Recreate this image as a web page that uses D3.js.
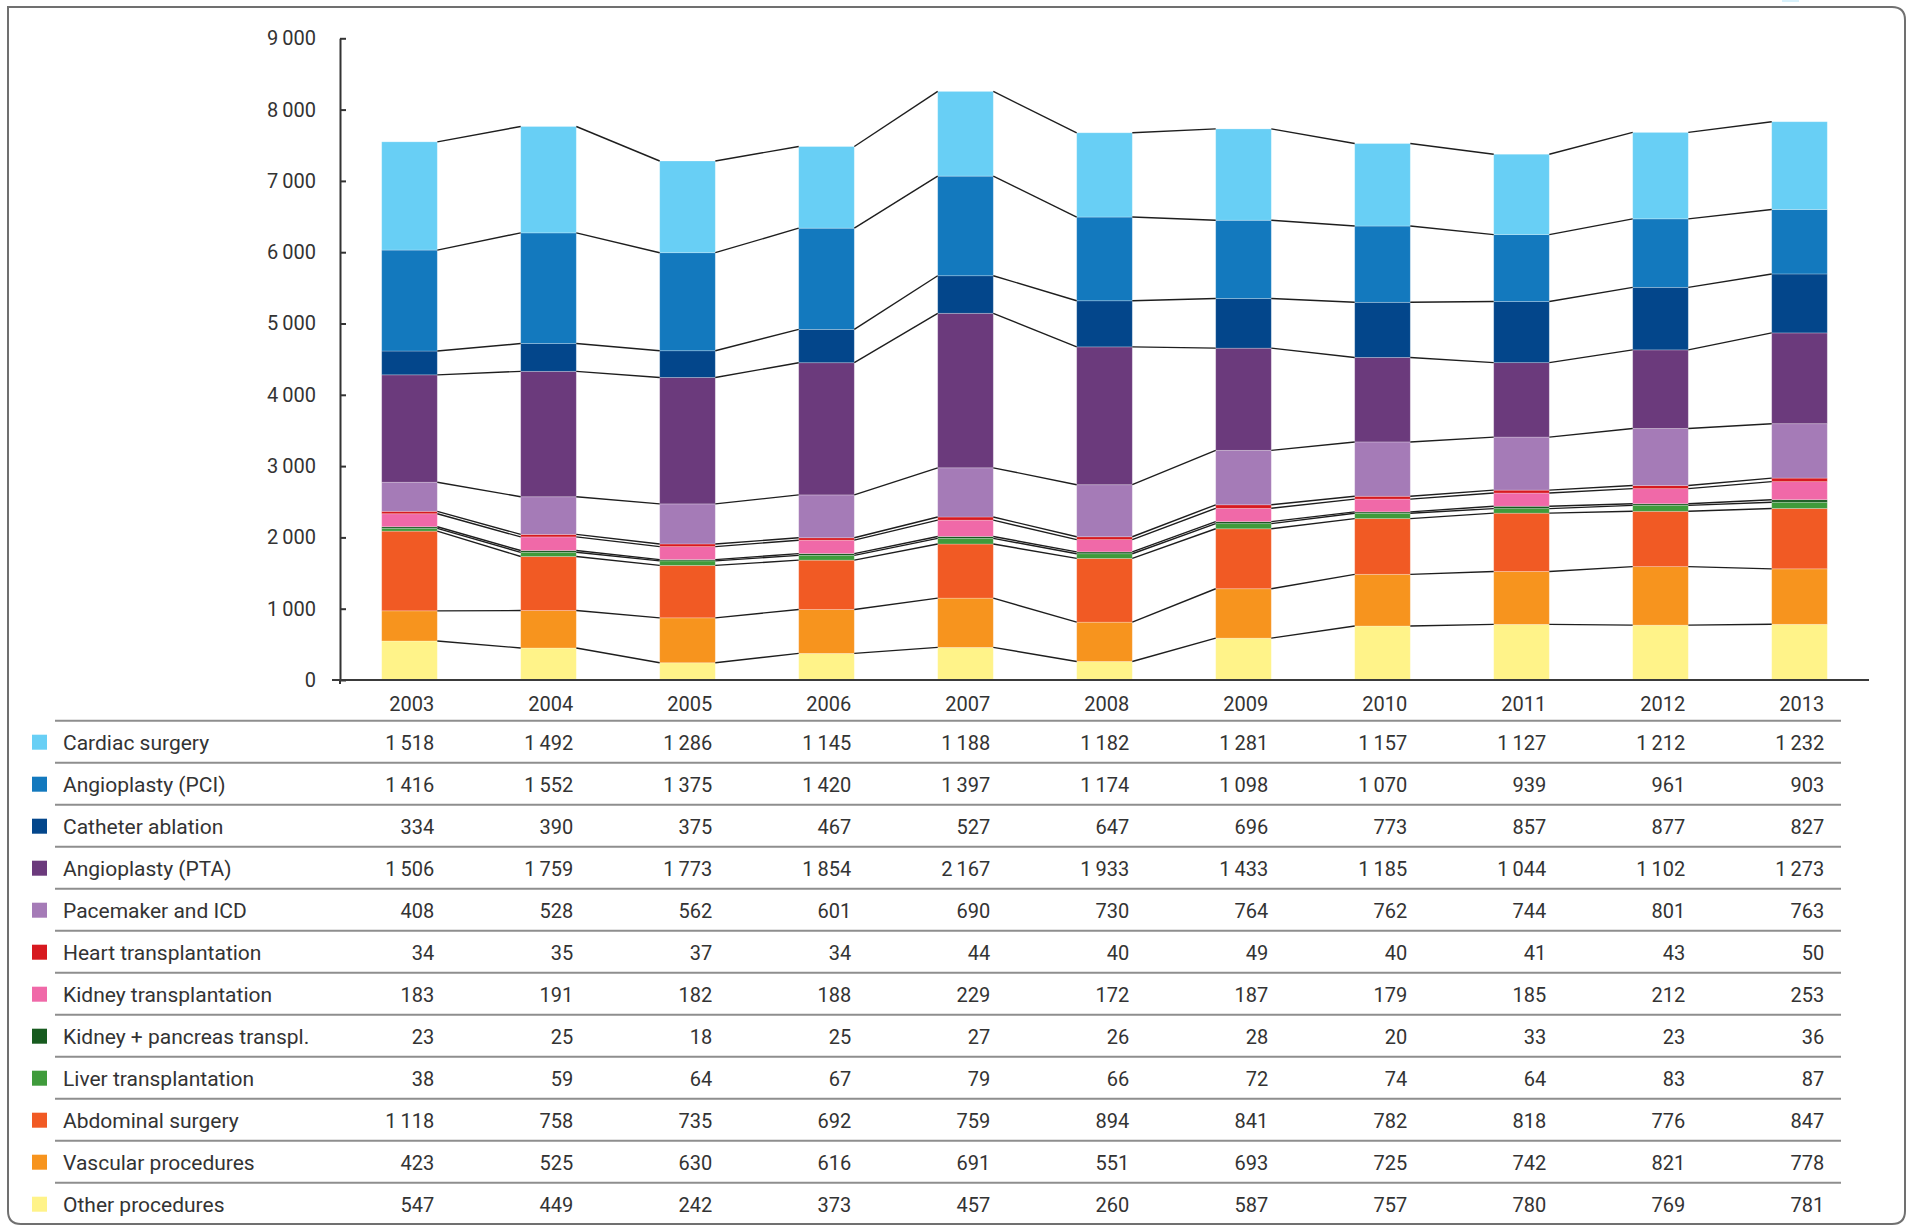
<!DOCTYPE html>
<html>
<head>
<meta charset="utf-8">
<script src="https://cdn.jsdelivr.net/npm/d3@7"></script>
<style>
    body { margin: 0; background: #fff; }
    #chart-area { width: 1911px; height: 1226px; }
    text { font-family: Roboto, "Noto Sans", sans-serif; fill: #333; }
</style>
</head>
<body>
<div id="chart-area"></div>
<script>

let years = [2003, 2004, 2005, 2006, 2007, 2008, 2009, 2010, 2011, 2012, 2013];

let seriesNames = ["Cardiac surgery", "Angioplasty (PCI)", "Catheter ablation", "Angioplasty (PTA)",
    "Pacemaker and ICD", "Heart transplantation", "Kidney transplantation", "Kidney + pancreas transpl.",
    "Liver transplantation", "Abdominal surgery", "Vascular procedures", "Other procedures"];

let cardiacSurgery   = [1518, 1492, 1286, 1145, 1188, 1182, 1281, 1157, 1127, 1212, 1232];
let angioplastyPCI   = [1416, 1552, 1375, 1420, 1397, 1174, 1098, 1070, 939, 961, 903];
let catheterAblation = [334, 390, 375, 467, 527, 647, 696, 773, 857, 877, 827];
let angioplastyPTA   = [1506, 1759, 1773, 1854, 2167, 1933, 1433, 1185, 1044, 1102, 1273];
let pacemakerICD     = [408, 528, 562, 601, 690, 730, 764, 762, 744, 801, 763];
let heartTx          = [34, 35, 37, 34, 44, 40, 49, 40, 41, 43, 50];
let kidneyTx         = [183, 191, 182, 188, 229, 172, 187, 179, 185, 212, 253];
let kidneyPancreasTx = [23, 25, 18, 25, 27, 26, 28, 20, 33, 23, 36];
let liverTx          = [38, 59, 64, 67, 79, 66, 72, 74, 64, 83, 87];
let abdominalSurgery = [1118, 758, 735, 692, 759, 894, 841, 782, 818, 776, 847];
let vascularProc     = [423, 525, 630, 616, 691, 551, 693, 725, 742, 821, 778];
let otherProc        = [547, 449, 242, 373, 457, 260, 587, 757, 780, 769, 781];

let yTicks = [0, 1000, 2000, 3000, 4000, 5000, 6000, 7000, 8000, 9000];

// table order (top to bottom) == reverse stacking order
let seriesValues = [cardiacSurgery, angioplastyPCI, catheterAblation, angioplastyPTA, pacemakerICD, heartTx,
    kidneyTx, kidneyPancreasTx, liverTx, abdominalSurgery, vascularProc, otherProc];

let colors = ["#68cff5", "#1379be", "#03468b", "#6b3a7c", "#a57bb7", "#d7191f",
    "#f069a8", "#175b1f", "#3f9b3b", "#f15a24", "#f7941e", "#fff389"];


class StackedProcedures {

    constructor(parentElement) {
        this.parentElement = parentElement;
        this.displayData = [];
        this.initVis();
    }

    initVis() {
        let vis = this;

        vis.width = 1911;
        vis.height = 1226;

        vis.svg = d3.select("#" + vis.parentElement).append("svg")
            .attr("width", vis.width)
            .attr("height", vis.height);

        // frame (square top-left corner, the others rounded)
        let l = 8, t = 7, r = 1905, b = 1224, rad = 13;
        vis.svg.append("path")
            .attr("d", `M${l},${t} H${r - rad} Q${r},${t} ${r},${t + rad} V${b - rad} Q${r},${b} ${r - rad},${b} H${l + rad} Q${l},${b} ${l},${b - rad} Z`)
            .attr("fill", "none")
            .attr("stroke", "#707070")
            .attr("stroke-width", 2);

        // little sliver at the top edge
        vis.svg.append("rect")
            .attr("x", 1782).attr("y", 0)
            .attr("width", 17).attr("height", 2)
            .attr("fill", "#d8f1fb");

        vis.x = d3.scaleBand()
            .domain(years)
            .range([340, 1869])
            .paddingInner(0.6)
            .paddingOuter(0.3);

        vis.y = d3.scaleLinear()
            .domain([0, 9000])
            .range([680, 38.3]);

        vis.fmt = v => d3.format(",")(v).replace(/,/g, "\u2009");

        vis.yAxis = vis.svg.append("g")
            .attr("class", "y-axis axis")
            .attr("transform", "translate(340, 0)")
            .call(d3.axisLeft(vis.y).tickValues(yTicks).tickSizeInner(-6).tickSizeOuter(0)
                .tickPadding(24).tickFormat(vis.fmt));

        vis.yAxis.select(".domain").attr("stroke", "#333").attr("stroke-width", 2);
        vis.yAxis.selectAll(".tick line").attr("stroke", "#333").attr("stroke-width", 2);
        vis.yAxis.selectAll(".tick text").style("font-size", "20px").attr("fill", "#333");

        // stub of the y axis below zero
        vis.svg.append("line")
            .attr("x1", 340).attr("x2", 340)
            .attr("y1", vis.y(0)).attr("y2", vis.y(0) + 4)
            .attr("stroke", "#333").attr("stroke-width", 2);

        vis.wrangleData();
    }

    wrangleData() {
        let vis = this;

        // stack bottom-up: Other procedures first
        let order = d3.range(seriesNames.length).reverse();
        vis.displayData = [];
        years.forEach((yr, i) => {
            let base = 0;
            order.forEach(s => {
                let v = seriesValues[s][i];
                vis.displayData.push({year: yr, idx: i, series: s, y0: base, y1: base + v});
                base += v;
            });
        });

        // series lines: one per series, joining the top of each segment
        vis.lineData = [];
        order.forEach(s => {
            let tops = vis.displayData.filter(d => d.series === s);
            for (let i = 0; i < tops.length - 1; i++) {
                vis.lineData.push({from: tops[i], to: tops[i + 1]});
            }
        });

        vis.updateVis();
    }

    updateVis() {
        let vis = this;
        let bw = vis.x.bandwidth();

        vis.svg.append("g").selectAll(".bar")
            .data(vis.displayData)
            .enter()
            .append("rect")
            .attr("class", "bar")
            .attr("x", d => vis.x(d.year))
            .attr("y", d => vis.y(d.y1))
            .attr("width", bw)
            .attr("height", d => vis.y(d.y0) - vis.y(d.y1))
            .attr("fill", d => colors[d.series])
            .attr("stroke", "rgba(255,255,255,0.3)")
            .attr("stroke-width", 0.8);

        vis.svg.append("g").selectAll(".series-line")
            .data(vis.lineData)
            .enter()
            .append("line")
            .attr("class", "series-line")
            .attr("x1", d => vis.x(d.from.year) + bw)
            .attr("y1", d => vis.y(d.from.y1))
            .attr("x2", d => vis.x(d.to.year))
            .attr("y2", d => vis.y(d.to.y1))
            .attr("stroke", "#1e1e1e")
            .attr("stroke-width", 1.4);

        // x axis line
        vis.svg.append("line")
            .attr("x1", 332).attr("x2", 1869)
            .attr("y1", vis.y(0)).attr("y2", vis.y(0))
            .attr("stroke", "#3a3a3a").attr("stroke-width", 2);

        // table under the chart
        let rowTop = 720.7, rowH = 42;
        let table = vis.svg.append("g").attr("class", "data-table");

        table.selectAll(".year-label")
            .data(years)
            .enter()
            .append("text")
            .attr("class", "year-label")
            .attr("x", d => vis.x(d) + bw - 3)
            .attr("y", 711)
            .attr("text-anchor", "end")
            .style("font-size", "20px")
            .text(d => d);

        table.selectAll(".row-line")
            .data(d3.range(seriesNames.length))
            .enter()
            .append("line")
            .attr("class", "row-line")
            .attr("x1", 55).attr("x2", 1841)
            .attr("y1", k => rowTop + k * rowH)
            .attr("y2", k => rowTop + k * rowH)
            .attr("stroke", "#8e8e8e")
            .attr("stroke-width", 2);

        let rows = table.selectAll(".row")
            .data(seriesNames)
            .enter()
            .append("g")
            .attr("class", "row")
            .attr("transform", (d, k) => `translate(0, ${rowTop + k * rowH})`);

        rows.append("rect")
            .attr("x", 32).attr("y", 14)
            .attr("width", 15).attr("height", 15)
            .attr("fill", (d, k) => colors[k]);

        rows.append("text")
            .attr("x", 63).attr("y", 29)
            .style("font-size", "21px")
            .text(d => d);

        rows.selectAll(".val")
            .data((d, k) => seriesValues[k].map((v, i) => ({v: v, year: years[i]})))
            .enter()
            .append("text")
            .attr("class", "val")
            .attr("x", d => vis.x(d.year) + bw - 3)
            .attr("y", 29)
            .attr("text-anchor", "end")
            .style("font-size", "20px")
            .text(d => vis.fmt(d.v));
    }
}

let chart = new StackedProcedures("chart-area");

</script>
</body>
</html>
